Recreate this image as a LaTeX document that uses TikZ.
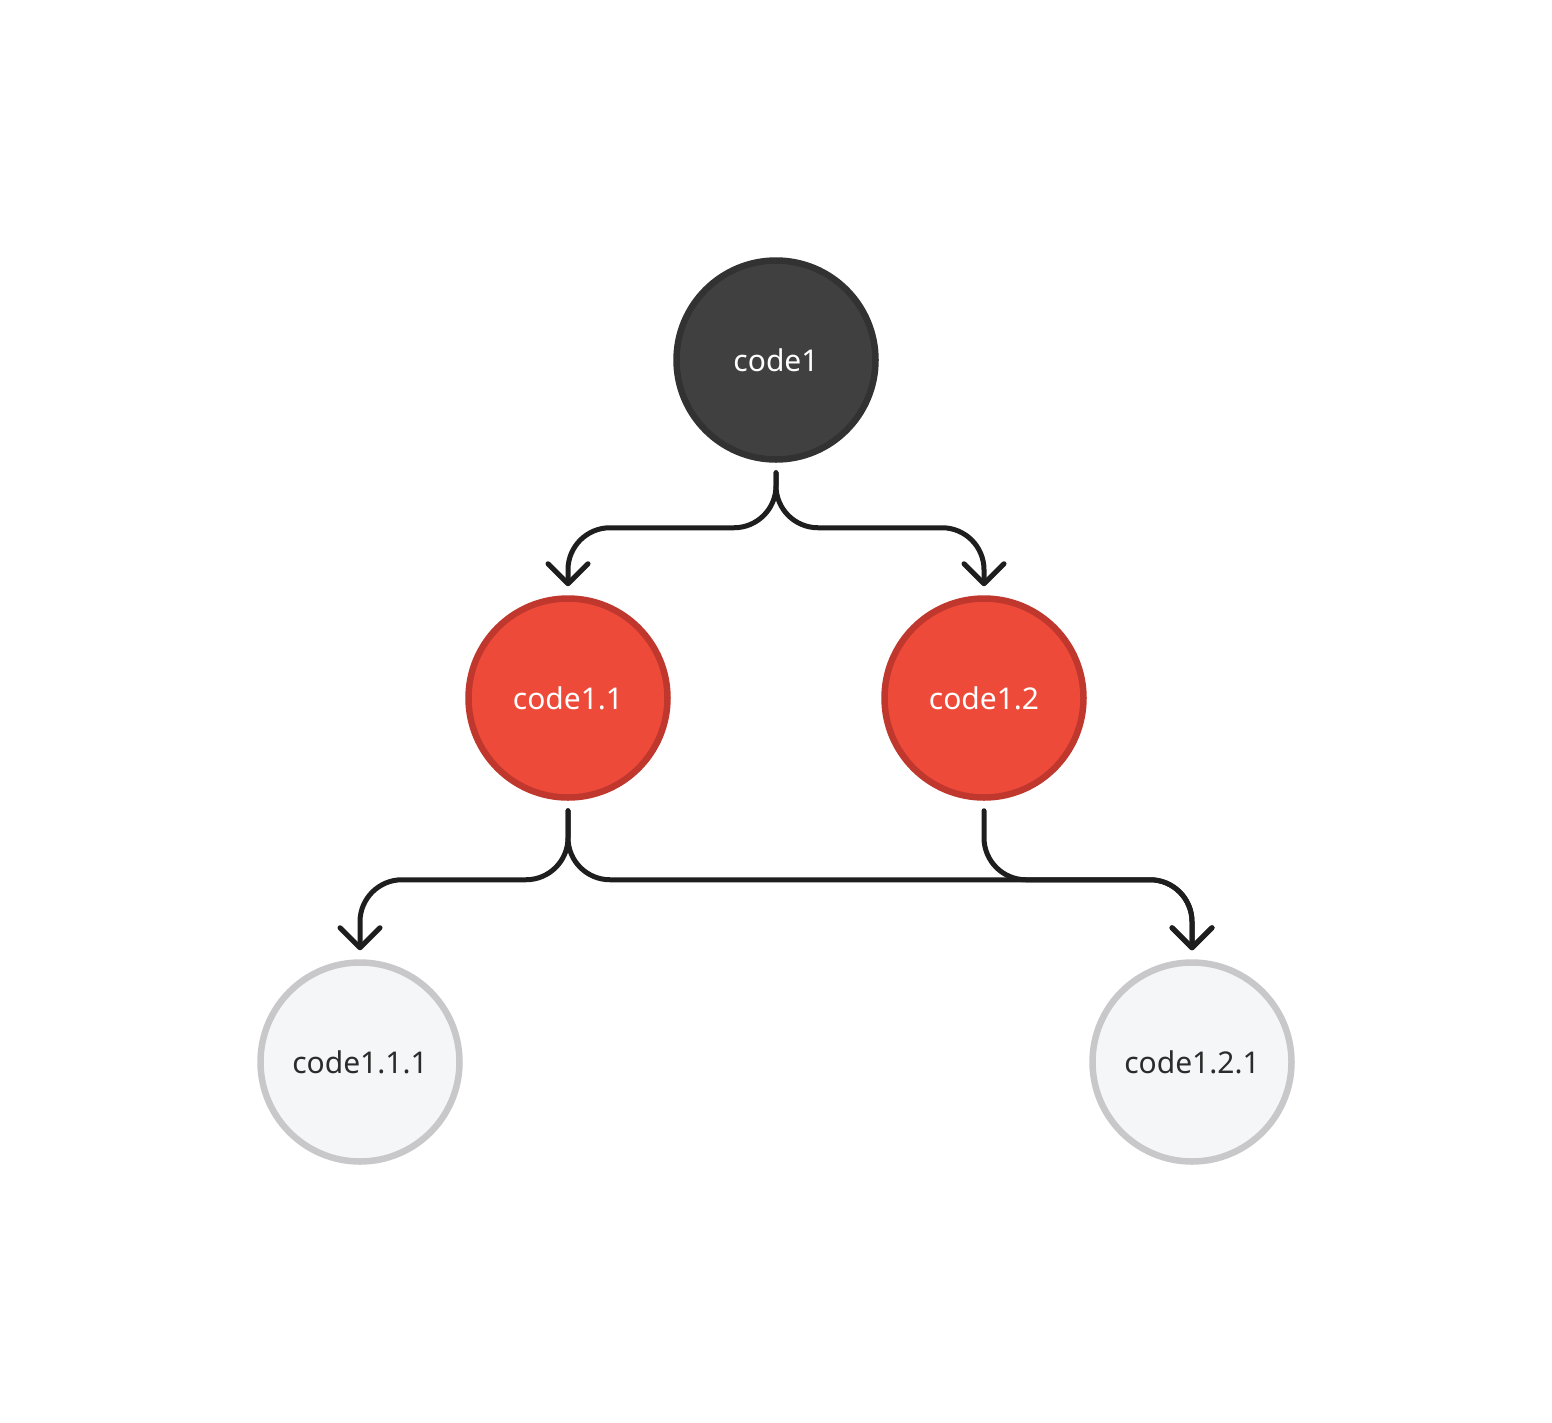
\documentclass[tikz,border=0pt]{standalone}
\usepackage{fontspec}
\setmainfont{Noto Sans}
\usetikzlibrary{arrows.meta}

\definecolor{rootfill}{HTML}{404040}
\definecolor{rootline}{HTML}{323232}
\definecolor{midfill}{HTML}{EE4A3A}
\definecolor{midline}{HTML}{C0372D}
\definecolor{leaffill}{HTML}{F5F6F8}
\definecolor{leafline}{HTML}{C8C8CA}
\definecolor{inkdark}{HTML}{1E1E1E}
\definecolor{leaftext}{HTML}{2B2B2B}

\begin{document}
\begin{tikzpicture}[x=1pt, y=-1pt, line cap=round, line join=round, >={Straight Barb[length=20pt, width=40pt, round]}]
    % Variables for easy adjustment
    \def\d{199pt}   % circle size
    \def\bend{42pt} % corner radius

    \tikzset{
        knot/.style={circle, minimum size=\d, inner sep=0pt, line width=6.5pt,
            font=\fontsize{30}{36}\selectfont},
        root/.style={knot, draw=rootline, fill=rootfill, text=white},
        mid/.style={knot, draw=midline, fill=midfill, text=white},
        leaf/.style={knot, draw=leafline, fill=leaffill, text=leaftext},
        link/.style={->, draw=inkdark, line width=5pt, rounded corners=\bend,
            shorten <=10pt, shorten >=9pt}
    }

    \useasboundingbox (0,0) rectangle (1552,1422);

    % The circles
    \node[root] (c1)   at (776,360)  {code1};
    \node[mid]  (c11)  at (568,698)  {code1.1};
    \node[mid]  (c12)  at (984,698)  {code1.2};
    \node[leaf] (c111) at (360,1062) {code1.1.1};
    \node[leaf] (c121) at (1192,1062) {code1.2.1};

    % Links from the top
    \draw[link] (c1.south) -- ++(0,65) -| (c11.north);
    \draw[link] (c1.south) -- ++(0,65) -| (c12.north);

    % Links to the bottom row
    \draw[link] (c11.south) -- ++(0,79) -| (c111.north);
    \draw[link] (c11.south) -- ++(0,79) -| (c121.north);
    \draw[link] (c12.south) -- ++(0,79) -| (c121.north);

\end{tikzpicture}
\end{document}
